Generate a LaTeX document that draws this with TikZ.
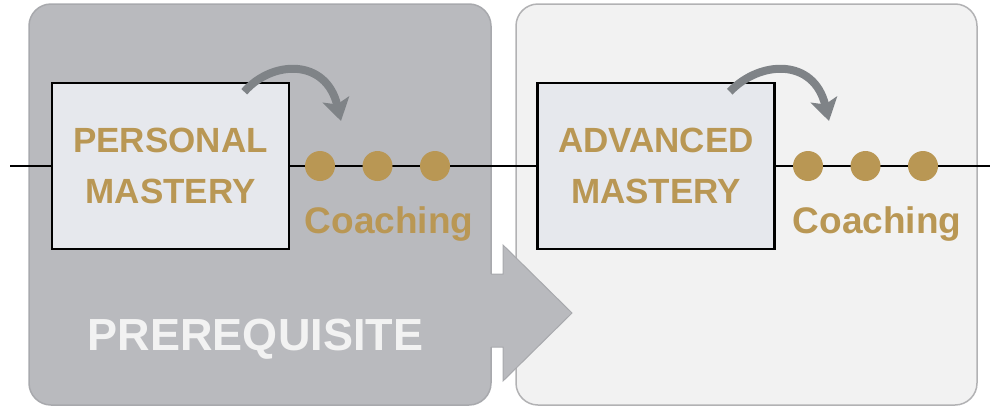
\documentclass[tikz,border=0pt]{standalone}
\usepackage{fontspec}
\setmainfont{Liberation Sans}
\usepackage{tikz}
\usetikzlibrary{arrows.meta,positioning}
\definecolor{gold}{RGB}{185,151,84}
\definecolor{prefill}{RGB}{185,186,190}
\definecolor{preedge}{RGB}{168,169,173}
\definecolor{nextfill}{RGB}{242,242,242}
\definecolor{nextedge}{RGB}{178,178,180}
\definecolor{boxfill}{RGB}{230,232,237}
\definecolor{bendgray}{RGB}{127,131,135}
\newcommand{\boxw}{237pt}
\newcommand{\boxh}{166pt}

\begin{document}
\begin{tikzpicture}[x=1pt,y=-1pt]
            \tikzset{panel/.style = {line width=1.5pt, rounded corners=22pt},
                masterybox/.style = {draw=black, fill=boxfill, line width=2.5pt, minimum width=\boxw,
                    minimum height=\boxh, align=center, text=gold, inner sep=0pt,
                    font=\bfseries\fontsize{35}{51}\selectfont},
                coachdot/.style = {circle, fill=gold, minimum size=30pt, inner sep=0pt},
                coachlabel/.style = {anchor=base, text=gold, font=\bfseries\fontsize{37}{44}\selectfont},
                bendarrow/.style = {draw=bendgray, line width=8pt,
                    -{Stealth[length=22pt,width=27pt,inset=5pt]}}}
            \useasboundingbox (0,0) rectangle (1000,410);
            % panels
            \draw[panel, draw=nextedge, fill=nextfill] (516,4) rectangle (977,405);
            \draw[panel, draw=preedge, fill=prefill] (29,4) rectangle (491,405);
            \fill[prefill] (488,274) -- (503,274) -- (503,245) -- (572,313) -- (503,381) -- (503,347) -- (488,347) -- cycle;
            \draw[preedge, line width=1pt] (491,274) -- (503,274) -- (503,245) -- (572,313) -- (503,381) -- (503,347) -- (491,347);
            \node[anchor=base, text=nextfill, font=\bfseries\fontsize{45}{54}\selectfont] (prereq) at (255.5,350) {PREREQUISITE};
            % track
            \coordinate (trackstart) at (10,166);
            \coordinate (trackend) at (990,166);
            \node[masterybox] (personal) at (170.5,166) {PERSONAL\\MASTERY};
            \node[masterybox] (advanced) at (656,166) {ADVANCED\\MASTERY};
            \draw[line width=2.5pt] (trackstart) -- (personal.west);
            \draw[line width=2.5pt] (personal.east) -- (advanced.west);
            \draw[line width=2.5pt] (advanced.east) -- (trackend);
            \foreach \i/\x in {1/320,2/377.5,3/435}
                \node[coachdot] (pdot\i) at (\x,166) {};
            \foreach \i/\x in {1/808,2/865.5,3/923}
                \node[coachdot] (adot\i) at (\x,166) {};
            \node[coachlabel] (pcoach) at (389,233) {Coaching};
            \node[coachlabel] (acoach) at (877,233) {Coaching};
            % bends
            \coordinate (ptail) at ([shift={(-46,10)}]personal.north east);
            \coordinate (ptip) at (341,121);
            \coordinate (atail) at ([shift={(-46,10)}]advanced.north east);
            \coordinate (atip) at (829,121);
            \draw[bendarrow] (ptail) .. controls (272,60) and (326,58) .. (ptip);
            \draw[bendarrow] (atail) .. controls (760,60) and (814,58) .. (atip);
        \end{tikzpicture}
\end{document}
